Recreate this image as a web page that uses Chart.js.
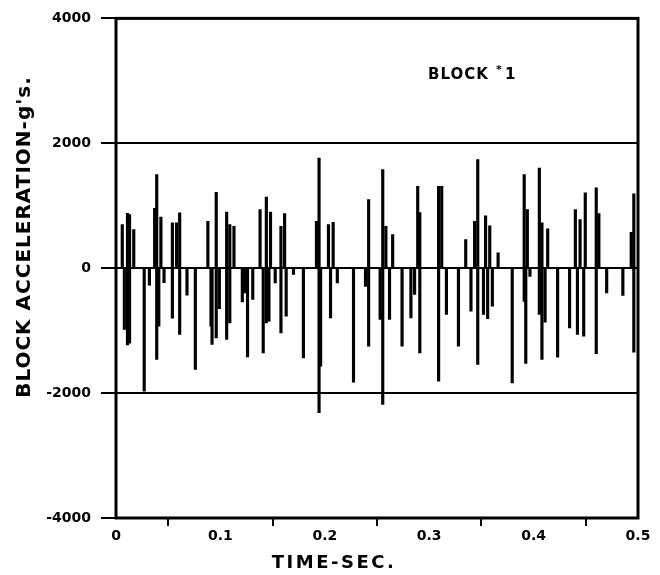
<!DOCTYPE html>
<html lang="en">
<head>
<meta charset="UTF-8">
<title>Block #1 acceleration</title>
<script src="https://cdn.jsdelivr.net/npm/chart.js@4.4.1"></script>
<style>
  html,body{margin:0;padding:0;background:#fff;}
  .wrap{position:relative;width:660px;height:575px;}
</style>
</head>
<body>
<div class="wrap"><canvas id="chart"></canvas></div>
<script>
// spikes (time in s, acceleration in g's)
const posTimes = [0.006,0.011,0.013,0.017,0.037,0.039,0.043,0.054,0.058,0.061,0.088,0.096,0.106,0.109,0.113,0.138,0.144,0.148,0.158,0.1615,0.192,0.1945,0.2035,0.208,0.242,0.2555,0.2585,0.265,0.289,0.291,0.309,0.312,0.335,0.3435,0.3465,0.354,0.358,0.366,0.391,0.394,0.4055,0.408,0.4135,0.440,0.4445,0.4495,0.460,0.4625,0.4935,0.496];
const posValues = [700,880,860,620,960,1500,820,725,725,885,750,1215,900,700,670,940,1140,900,670,875,750,1765,700,735,1100,1580,670,540,1310,890,1310,1310,460,750,1740,840,680,245,1500,940,1605,725,630,940,780,1205,1285,875,575,1190];
const negTimes = [0.008,0.011,0.013,0.027,0.032,0.039,0.041,0.046,0.054,0.061,0.068,0.076,0.091,0.092,0.096,0.099,0.106,0.109,0.121,0.123,0.126,0.131,0.141,0.144,0.1465,0.1525,0.158,0.163,0.170,0.1795,0.1945,0.196,0.2055,0.212,0.2275,0.239,0.242,0.253,0.2555,0.262,0.274,0.2825,0.286,0.291,0.309,0.3165,0.328,0.340,0.3465,0.352,0.356,0.3605,0.3795,0.391,0.3925,0.3965,0.4055,0.408,0.411,0.423,0.4345,0.442,0.448,0.460,0.470,0.4855,0.496];
const negValues = [-980,-1230,-1200,-1970,-270,-1460,-930,-230,-800,-1060,-430,-1620,-930,-1220,-1115,-650,-1140,-875,-540,-395,-1420,-500,-1355,-875,-850,-235,-1035,-770,-100,-1435,-2315,-1570,-795,-235,-1825,-290,-1250,-820,-2180,-820,-1250,-795,-420,-1355,-1810,-740,-1250,-690,-1540,-740,-810,-610,-1835,-530,-1525,-130,-740,-1460,-865,-1425,-955,-1060,-1090,-1370,-395,-435,-1345];
const xTicks = [0,0.1,0.2,0.3,0.4,0.5];
const yTicks = [-4000,-2000,0,2000,4000];

const FONT = "'DejaVu Sans', sans-serif";

const labels = {
  id:'labels',
  afterDraw(c){
    const ctx=c.ctx, a=c.chartArea;
    ctx.save();
    // frame
    ctx.strokeStyle='#000';ctx.lineWidth=3;
    ctx.strokeRect(a.left,a.top,a.right-a.left,a.bottom-a.top);
    ctx.fillStyle='#000';
    // y title
    ctx.save();
    ctx.translate(25,237);ctx.rotate(-Math.PI/2);
    ctx.textAlign='center';ctx.textBaseline='middle';
    ctx.font='bold 20px '+FONT;ctx.letterSpacing='1px';
    ctx.fillText("BLOCK ACCELERATION-g's.",0,0);
    ctx.restore();
    // x title
    ctx.textAlign='center';ctx.textBaseline='middle';
    ctx.font='bold 18px '+FONT;ctx.letterSpacing='2.5px';
    ctx.fillText('TIME-SEC.',334,563);
    // block label
    ctx.letterSpacing='1px';ctx.textAlign='left';ctx.textBaseline='alphabetic';
    ctx.font='bold 15px '+FONT;
    ctx.fillText('BLOCK',428,79);
    ctx.font='bold 11px '+FONT;
    ctx.fillText('*',496,73);
    ctx.font='bold 15px '+FONT;
    ctx.fillText('1',505,79);
    ctx.restore();
  }
};

new Chart(document.getElementById('chart'),{
  type:'bar',
  data:{datasets:[
    {data:posTimes.map((t,i)=>({x:t,y:posValues[i]})),backgroundColor:'#000',barThickness:2.5,grouped:false},
    {data:negTimes.map((t,i)=>({x:t,y:negValues[i]})),backgroundColor:'#000',barThickness:2.5,grouped:false}
  ]},
  options:{
    responsive:true,maintainAspectRatio:false,animation:false,
    layout:{padding:{top:18,right:22,left:0,bottom:0}},
    plugins:{legend:{display:false},tooltip:{enabled:false}},
    scales:{
      x:{type:'linear',min:0,max:0.5,offset:false,
        afterBuildTicks:s=>{s.ticks=xTicks.map(v=>({value:v}));},
        afterFit:s=>{s.height=57;},
        ticks:{color:'#000',padding:2,maxRotation:0,font:{family:FONT,weight:'bold',size:14},
          callback:v=>v===0?'0':v.toFixed(1)},
        grid:{drawOnChartArea:false,drawTicks:true,tickLength:8,color:'#000',lineWidth:2},
        border:{display:false}},
      y:{min:-4000,max:4000,
        afterBuildTicks:s=>{s.ticks=yTicks.map(v=>({value:v}));},
        afterFit:s=>{s.width=116;},
        ticks:{color:'#000',padding:10,font:{family:FONT,weight:'bold',size:14},callback:v=>String(v)},
        grid:{color:'#000',lineWidth:2,tickLength:15},
        border:{display:false}}
    }
  },
  plugins:[labels]
});
</script>
</body>
</html>
